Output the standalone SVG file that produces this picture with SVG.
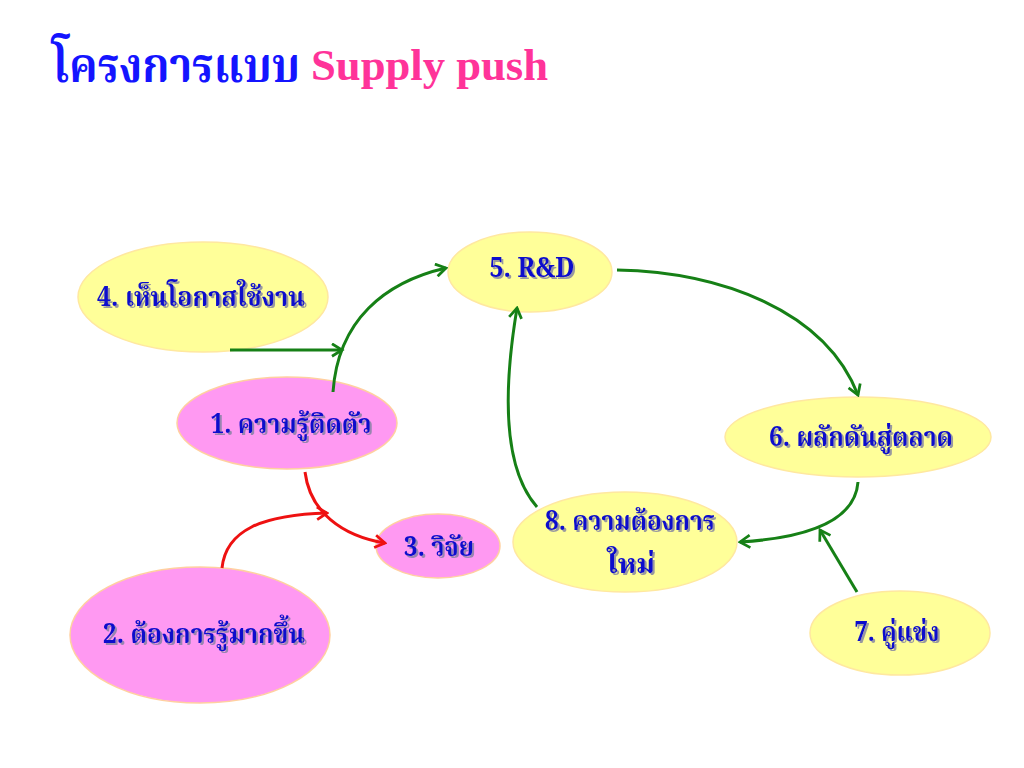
<svg xmlns="http://www.w3.org/2000/svg" width="1024" height="768" viewBox="0 0 1024 768">
<defs>
<style>
.y{fill:#FFFF99;stroke:#FFE8A0;stroke-width:1.5}
.p{fill:#FF99F2;stroke:#FFD0A0;stroke-width:1.5}
.t{font-family:"Noto Serif Thai","Noto Sans Thai","Liberation Serif","DejaVu Serif",serif;font-weight:bold;font-size:27px;fill:#1010CC;text-anchor:middle;filter:url(#sh)}
.g{fill:none;stroke:#168016;stroke-width:3}
.r{fill:none;stroke:#EE1111;stroke-width:3}
.th{font-family:"Noto Serif Thai","Noto Sans Thai","Liberation Serif",serif;font-size:48px;font-weight:bold;fill:#1414FF}
.en{font-family:"Liberation Serif","Times New Roman",serif;font-size:44px;font-weight:bold;fill:#FF3399}
</style>
<filter id="sh" x="-10%" y="-20%" width="130%" height="150%">
<feDropShadow dx="2" dy="2" stdDeviation="0.6" flood-color="#8080A0" flood-opacity="0.8"/>
</filter>
<marker id="ag" viewBox="0 0 12 12" refX="10" refY="6" markerWidth="5" markerHeight="5" orient="auto" markerUnits="strokeWidth">
<path d="M2,1 L10,6 L2,11" fill="none" stroke="#168016" stroke-width="2.2"/>
</marker>
<marker id="ar" viewBox="0 0 12 12" refX="10" refY="6" markerWidth="5" markerHeight="5" orient="auto" markerUnits="strokeWidth">
<path d="M2,1 L10,6 L2,11" fill="none" stroke="#EE1111" stroke-width="2.2"/>
</marker>
</defs>
<rect width="1024" height="768" fill="#FFFFFF"/>
<g id="title">
<text x="52" y="82" class="th" textLength="248" lengthAdjust="spacingAndGlyphs">โครงการแบบ</text>
<text x="311" y="80" class="en" textLength="237" lengthAdjust="spacingAndGlyphs">Supply push</text>
</g>
<g id="n4"><ellipse class="y" cx="203" cy="297" rx="125" ry="55"/><text class="t" x="201" y="306" textLength="208" lengthAdjust="spacingAndGlyphs">4. เห็นโอกาสใช้งาน</text></g>
<g id="n5"><ellipse class="y" cx="530" cy="272" rx="82" ry="40"/><text class="t" x="532" y="277" textLength="85" lengthAdjust="spacingAndGlyphs">5. R&amp;D</text></g>
<g id="n1"><ellipse class="p" cx="287" cy="423" rx="110" ry="46"/><text class="t" x="291" y="433" textLength="161" lengthAdjust="spacingAndGlyphs">1. ความรู้ติดตัว</text></g>
<g id="n3"><ellipse class="p" cx="438" cy="546" rx="62" ry="32"/><text class="t" x="439" y="556" textLength="70" lengthAdjust="spacingAndGlyphs">3. วิจัย</text></g>
<g id="n2"><ellipse class="p" cx="200" cy="635" rx="130" ry="68"/><text class="t" x="204" y="643" textLength="202" lengthAdjust="spacingAndGlyphs">2. ต้องการรู้มากขึ้น</text></g>
<g id="n8"><ellipse class="y" cx="625" cy="542" rx="112" ry="50"/><text class="t" x="630" y="530" textLength="170" lengthAdjust="spacingAndGlyphs">8. ความต้องการ</text><text class="t" x="631" y="573" textLength="48" lengthAdjust="spacingAndGlyphs">ใหม่</text></g>
<g id="n6"><ellipse class="y" cx="858" cy="437" rx="133" ry="40"/><text class="t" x="861" y="446" textLength="184" lengthAdjust="spacingAndGlyphs">6. ผลักดันสู่ตลาด</text></g>
<g id="n7"><ellipse class="y" cx="900" cy="633" rx="90" ry="42"/><text class="t" x="897" y="641" textLength="85" lengthAdjust="spacingAndGlyphs">7. คู่แข่ง</text></g>
<g id="connectors">
<path class="g" d="M230,350 L342,350" marker-end="url(#ag)"/>
<path class="g" d="M333,392 C338,320 385,282 446,268" marker-end="url(#ag)"/>
<path class="g" d="M617,270 C720,272 825,310 858,395" marker-end="url(#ag)"/>
<path class="g" d="M858,482 C855,522 805,538 740,542" marker-end="url(#ag)"/>
<path class="g" d="M857,592 L820,530" marker-end="url(#ag)"/>
<path class="g" d="M537,507 C500,465 505,380 517,308" marker-end="url(#ag)"/>
<path class="r" d="M305,472 C310,512 342,536 385,543" marker-end="url(#ar)"/>
<path class="r" d="M222,568 C226,530 262,515 327,513" marker-end="url(#ar)"/>
</g>
</svg>
